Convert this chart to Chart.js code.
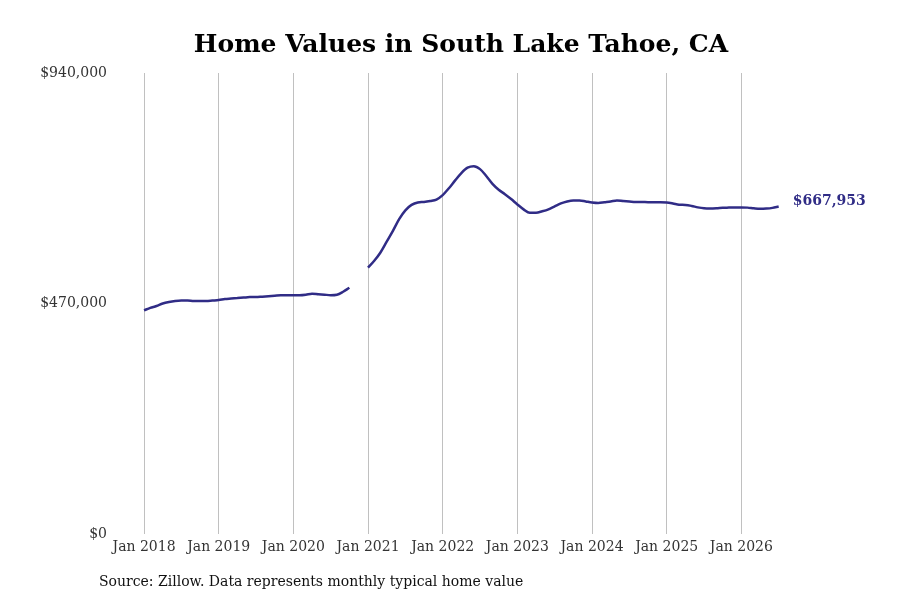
<!DOCTYPE html>
<html>
<head>
<meta charset="utf-8">
<script src="https://cdn.jsdelivr.net/npm/chart.js@4.4.1/dist/chart.umd.min.js"></script>
<style>
  html, body { margin: 0; padding: 0; background: #ffffff; }
  #wrap { width: 900px; height: 600px; position: relative; }
</style>
</head>
<body>
<div id="wrap"><canvas id="c" width="900" height="600"></canvas></div>
<script>
// ---- data ----
const chartTitle = 'Home Values in South Lake Tahoe, CA';
const sourceNote = 'Source: Zillow. Data represents monthly typical home value';
const startYear = 2018;
const v2018 = [456000, 461000, 465000, 470000, 473000, 475000, 476000, 476000, 475000, 475000, 475000, 476000];
const v2019 = [477000, 479000, 480000, 481000, 482000, 483000, 483000, 484000, 485000, 486000, 487000, 487000];
const v2020 = [487000, 487000, 488000, 490000, 489000, 488000, 487000, 488000, 494000, 502000, null, null];
const v2021 = [543000, 557000, 574000, 596000, 618000, 642000, 660000, 671000, 676000, 677000, 679000, 682000];
const v2022 = [691000, 705000, 721000, 736000, 747000, 750000, 744000, 730000, 714000, 702000, 693000, 683000];
const v2023 = [672000, 662000, 655000, 655000, 658000, 662000, 668000, 674000, 678000, 680000, 680000, 678000];
const v2024 = [676000, 675000, 676500, 678000, 680000, 679000, 678000, 677000, 677000, 676500, 676500, 676500];
const v2025 = [676000, 674000, 671500, 671000, 669000, 666000, 664000, 663500, 664000, 665000, 665500, 666000];
const v2026 = [666000, 665500, 664000, 663000, 663500, 665000, 667953];
const xTickLabels = ['Jan 2018', 'Jan 2019', 'Jan 2020', 'Jan 2021', 'Jan 2022', 'Jan 2023', 'Jan 2024', 'Jan 2025', 'Jan 2026'];
const yTickValues = [0, 470000, 940000];

const values = [].concat(v2018, v2019, v2020, v2021, v2022, v2023, v2024, v2025, v2026);
const points = values.map((v, i) => ({ x: i, y: v }));
const lineColor = '#302c86';
const fmt = v => '$' + v.toLocaleString('en-US');

const overlay = {
  id: 'overlay',
  afterDraw(chart) {
    const ctx = chart.ctx;
    ctx.save();
    ctx.fillStyle = '#000';
    ctx.textAlign = 'center';
    ctx.textBaseline = 'middle';
    ctx.font = 'bold 25px "DejaVu Serif"';
    ctx.fillText(chartTitle, 461, 45);
    ctx.textAlign = 'left';
    ctx.font = '14px "DejaVu Serif"';
    ctx.fillStyle = '#111';
    ctx.fillText(sourceNote, 99, 582);
    // last value label
    const meta = chart.getDatasetMeta(0);
    const last = meta.data[meta.data.length - 1];
    ctx.fillStyle = lineColor;
    ctx.font = 'bold 14px "DejaVu Serif"';
    ctx.fillText(fmt(values[values.length - 1]), last.x + 14, last.y - 5);
    ctx.restore();
  }
};

new Chart(document.getElementById('c'), {
  type: 'line',
  data: {
    datasets: [{
      data: points,
      borderColor: lineColor,
      borderWidth: 2.5,
      pointRadius: 0,
      tension: 0.4,
      cubicInterpolationMode: 'monotone',
      spanGaps: false,
      fill: false
    }]
  },
  options: {
    responsive: false,
    animation: false,
    devicePixelRatio: 1,
    layout: { padding: { top: 73, right: 84, bottom: 36, left: 0 } },
    plugins: { legend: { display: false }, tooltip: { enabled: false }, title: { display: false } },
    scales: {
      x: {
        type: 'linear',
        min: -5.15,
        max: 108,
        afterBuildTicks(scale) {
          scale.ticks = xTickLabels.map((_, i) => ({ value: i * 12 }));
        },
        afterFit(scale) { scale.height = 30; },
        ticks: {
          autoSkip: false,
          maxRotation: 0,
          padding: 5,
          color: '#333',
          font: { family: '"DejaVu Serif"', size: 14 },
          callback: (v) => xTickLabels[Math.round(v / 12)] || ''
        },
        grid: { display: true, color: '#c0c0c0', lineWidth: 1, drawTicks: false },
        border: { display: false }
      },
      y: {
        min: 0,
        max: 940000,
        afterBuildTicks(scale) {
          scale.ticks = yTickValues.map(v => ({ value: v }));
        },
        afterFit(scale) { scale.width = 112; },
        ticks: {
          padding: 5,
          color: '#333',
          font: { family: '"DejaVu Serif"', size: 14 },
          callback: (v) => fmt(v)
        },
        grid: { display: false, drawTicks: false },
        border: { display: false }
      }
    }
  },
  plugins: [overlay]
});
</script>
</body>
</html>
